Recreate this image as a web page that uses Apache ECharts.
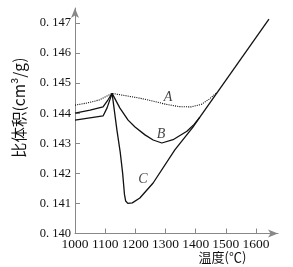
<!DOCTYPE html>
<html>
<head>
<meta charset="utf-8">
<script src="https://cdn.jsdelivr.net/npm/echarts@6/dist/echarts.min.js"></script>
<style>html,body{margin:0;padding:0;background:#fff;}#c{width:293px;height:267px;}</style>
</head>
<body>
<div id="c"></div>
<script>
// Tick labels
var xTicks = [1000, 1100, 1200, 1300, 1400, 1500, 1600];
var yTicks = [0.140, 0.141, 0.142, 0.143, 0.144, 0.145, 0.146, 0.147];
var xName = '温度(℃)';
var yName = '比体积(cm³/g)';

// Curve A (dotted): [temperature, specific volume]
var curveA = [[1000,0.14427],[1040,0.14434],[1080,0.14444],[1123,0.14466],[1170,0.14458],[1215,0.14450],[1260,0.14440],[1300,0.14430],[1345,0.14422],[1385,0.14421],[1420,0.14430],[1445,0.14447],[1471,0.14469]];
// Curve B
var curveB = [[1000,0.14400],[1050,0.14410],[1093,0.14421],[1109,0.14444],[1123,0.14466],[1149,0.14417],[1176,0.14377],[1199,0.14354],[1232,0.14328],[1259,0.14311],[1288,0.14301],[1325,0.14312],[1371,0.14340],[1395,0.14363],[1414,0.14387]];
// Curve C
var curveC = [[1000,0.14377],[1093,0.14391],[1106,0.14417],[1123,0.14466],[1139,0.14344],[1150,0.14270],[1158,0.14200],[1164,0.14130],[1168,0.14108],[1175,0.14100],[1190,0.14102],[1215,0.14118],[1259,0.14168],[1331,0.14278],[1391,0.14354],[1414,0.14387]];
// Common straight line (liquid)
var mainLine = [[1414,0.14387],[1643,0.14713]];
// Curve labels
var curveNames = ['A', 'B', 'C'];
var labelPos = [[1308,0.14453],[1285,0.14331],[1225,0.14181]];

var chart = echarts.init(document.getElementById('c'), null, {renderer: 'canvas'});
var serif = '"Liberation Serif", "DejaVu Serif", serif';
var cjk = '"Noto Sans CJK SC", sans-serif';
var lineCol = '#111';
function solid(d){return {type:'line', data:d, symbol:'none', smooth:false, lineStyle:{color:lineCol, width:1.3}, silent:true, z:3};}
chart.setOption({
  animation: false,
  backgroundColor: '#fff',
  grid: {left: 75, right: 15, top: 8, bottom: 33.5, containLabel: false, outerBoundsMode: 'none'},
  xAxis: {
    type: 'value', min: 1000, max: 1673,
    name: xName, nameLocation: 'middle', nameGap: 17, nameMoveOverlap: false,
    nameTextStyle: {fontFamily: cjk, fontSize: 13, color: '#111', padding: [0,0,0,92]},
    axisLine: {show: true, lineStyle: {color: '#888', width: 1}, symbol: ['none','arrow'], symbolSize: [6, 10]},
    axisTick: {show: true, inside: true, length: 5, lineStyle: {color: '#888'}, customValues: xTicks},
    axisLabel: {show: true, customValues: xTicks, fontFamily: serif, fontSize: 13.5, color: '#111', margin: 4,
      formatter: function(v){ return String(Math.round(v)); }},
    splitLine: {show: false}
  },
  yAxis: {
    type: 'value', min: 0.140, max: 0.1475,
    name: yName, nameLocation: 'middle', nameGap: 48, nameRotate: 90, nameMoveOverlap: false,
    nameTextStyle: {fontFamily: cjk, fontSize: 15.5, color: '#111', padding: [0,0,0,26]},
    axisLine: {show: true, lineStyle: {color: '#888', width: 1}, symbol: ['none','arrow'], symbolSize: [6, 10]},
    axisTick: {show: true, inside: true, length: 5, lineStyle: {color: '#888'}, customValues: yTicks},
    axisLabel: {show: true, customValues: yTicks, fontFamily: serif, fontSize: 12.5, color: '#111', margin: 4,
      formatter: function(v){ return v.toFixed(3).replace('.', '. '); }},
    splitLine: {show: false}
  },
  series: [
    {type:'line', data: curveA, symbol:'none', lineStyle:{color:lineCol, width:1.1, type:'dotted'}, silent:true, z:2},
    solid(curveB),
    solid(curveC),
    solid(mainLine),
    {type:'scatter', symbolSize: 0, silent: true,
      data: labelPos.map(function(p,i){return {value:p, name:curveNames[i]};}),
      label: {show:true, position:'inside', formatter: function(p){return p.name;}, fontFamily: serif, fontStyle:'italic', fontSize: 14, color:'#111'}}
  ]
});
</script>
</body>
</html>
